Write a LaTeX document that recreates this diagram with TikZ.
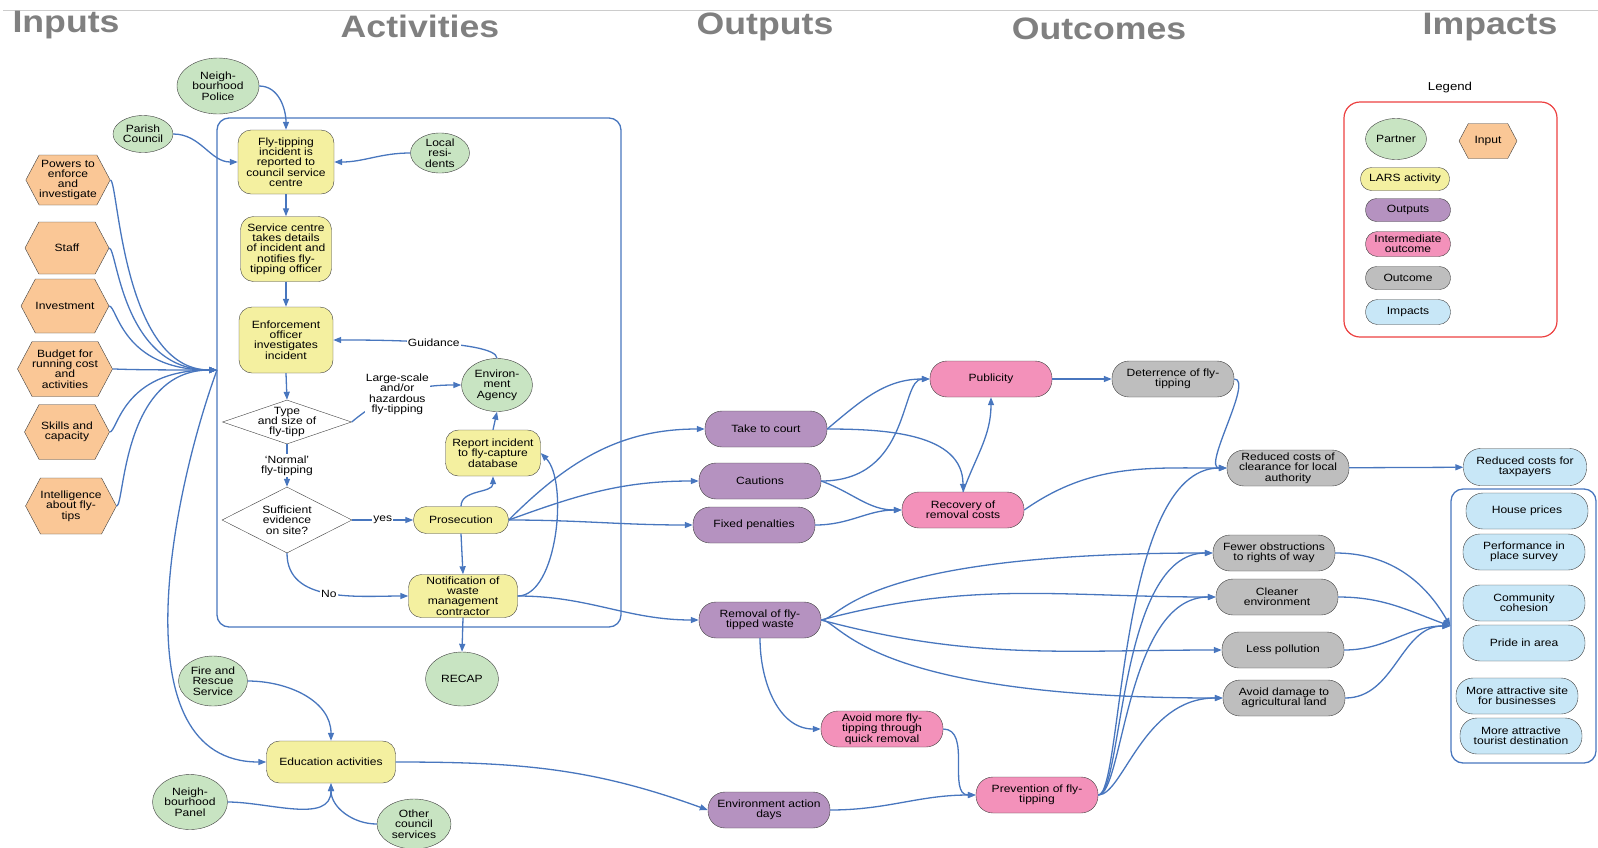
\documentclass[tikz,border=0pt]{standalone}
\usepackage{fontspec}
\setmainfont[FakeStretch=1.15]{Liberation Sans}
\usepackage{xcolor}
\usetikzlibrary{arrows.meta,shapes.geometric,shapes.symbols,positioning}

\definecolor{partnerc}{RGB}{200,228,194}
\definecolor{inputc}{RGB}{250,199,150}
\definecolor{larsc}{RGB}{244,240,160}
\definecolor{outputc}{RGB}{181,146,192}
\definecolor{interc}{RGB}{243,145,186}
\definecolor{outcomec}{RGB}{190,190,190}
\definecolor{impactc}{RGB}{200,231,247}
\definecolor{linkc}{RGB}{72,118,190}
\definecolor{legendc}{RGB}{236,64,64}
\definecolor{headc}{RGB}{128,128,128}

\tikzset{wh/.style n args={2}{minimum width=#1pt,minimum height=#2pt}}

\begin{document}
\begin{tikzpicture}
  [x=1pt,y=-1pt,
   every node/.style={font=\fontsize{10.5}{10.3}\selectfont,align=center,inner sep=1pt},
   partner/.style={draw=black!75,fill=partnerc,ellipse,inner sep=0pt},
   input/.style={draw=black!75,fill=inputc,signal,signal to=east and west,signal pointer angle=124,inner sep=0pt},
   lars/.style={draw=black!75,fill=larsc,rounded corners=13pt},
   output/.style={draw=black!75,fill=outputc,rounded corners=17pt,wh={122}{36}},
   inter/.style={draw=black!75,fill=interc,rounded corners=17pt,wh={122}{36}},
   outcome/.style={draw=black!75,fill=outcomec,rounded corners=17pt,wh={122}{36}},
   impact/.style={draw=black!75,fill=impactc,rounded corners=17pt,wh={122}{36}},
   decision/.style={draw=black!75,fill=white,diamond,aspect=2,inner sep=0pt},
   group/.style={draw=linkc,line width=1.3pt,rounded corners=12pt},
   head/.style={font=\fontsize{31}{31}\selectfont\bfseries,text=headc},
   link/.style={draw=linkc,line width=1.3pt,-{Triangle[length=8pt,width=6pt]}},
   elabel/.style={fill=white,inner sep=1pt}]
  \useasboundingbox (0,0) rectangle (1598,847);
  \draw[headc!40,line width=1.2pt] (3,10.5) -- (1598,10.5);
  \node[head] (hdin) at (66,25) {Inputs};
  \node[head] (hdact) at (420,26) {Activities};
  \node[head] (hdout) at (765,27) {Outputs};
  \node[head] (hdoutc) at (1099,29) {Outcomes};
  \node[head] (hdimp) at (1490,27) {Impacts};

  \node[group,wh={404}{509}] (actbox) at (419,372.5) {};
  \node[group,wh={145}{274}] (impbox) at (1523.5,626) {};
  \coordinate (hub) at (217,370);

  % partners
  \node[partner,wh={82}{56}] (police) at (218,86) {Neigh-\\bourhood\\Police};
  \node[partner,wh={60}{37}] (parish) at (143,134) {Parish\\Council};
  \node[partner,wh={59}{40}] (locals) at (440,153) {Local\\resi-\\dents};
  \node[partner,wh={71}{53}] (envag) at (497,385) {Environ-\\ment\\Agency};
  \node[partner,wh={73}{54}] (recap) at (462,679) {RECAP};
  \node[partner,wh={69}{50}] (fire) at (213,681) {Fire and\\Rescue\\Service};
  \node[partner,wh={75}{55}] (panel) at (190,802) {Neigh-\\bourhood\\Panel};
  \node[partner,wh={74}{50}] (othercs) at (414,824) {Other\\council\\services};

  % inputs
  \node[input,wh={82}{50}] (powers) at (68,180) {Powers to\\enforce\\and\\investigate};
  \node[input,wh={84}{52}] (staff) at (67,248) {Staff};
  \node[input,wh={88}{54}] (invest) at (65,306) {Investment};
  \node[input,wh={88}{55}] (budget) at (65,369) {Budget for\\running cost\\and\\activities};
  \node[input,wh={85}{55}] (skills) at (67,432) {Skills and\\capacity};
  \node[input,wh={87}{56}] (intel) at (71,506) {Intelligence\\about fly-\\tips};

  % activities
  \node[lars,wh={96}{64}] (reported) at (286,162) {Fly-tipping\\incident is\\reported to\\council service\\centre};
  \node[lars,wh={91}{65}] (details) at (286,249) {Service centre\\takes details\\of incident and\\notifies fly-\\tipping officer};
  \node[lars,wh={94}{66}] (enforce) at (286,340) {Enforcement\\officer\\investigates\\incident};
  \node[decision,wh={129}{44},label={[align=center]center:Type\\and size of\\fly-tipp}] (typesize) at (287,422) {};
  \node[decision,wh={130}{66}] (evidence) at (287,520) {Sufficient\\evidence\\on site?};
  \node[lars,wh={95}{46}] (flycap) at (493,453) {Report incident\\to fly-capture\\database};
  \node[lars,wh={95}{27}] (prosec) at (461,520) {Prosecution};
  \node[lars,wh={109}{43}] (notify) at (463,596) {Notification of\\waste\\management\\contractor};
  \node[lars,wh={129}{42}] (educ) at (331,762) {Education activities};

  % outputs
  \node[output] (court) at (766,429) {Take to court};
  \node[output] (caution) at (760,481) {Cautions};
  \node[output] (fixed) at (754,525) {Fixed penalties};
  \node[output] (removal) at (760,620) {Removal of fly-\\tipped waste};
  \node[output] (actdays) at (769,810) {Environment action\\days};

  % intermediate outcomes
  \node[inter] (public) at (991,379) {Publicity};
  \node[inter] (recovery) at (963,510) {Recovery of\\removal costs};
  \node[inter] (quick) at (882,729) {Avoid more fly-\\tipping through\\quick removal};
  \node[inter] (prevent) at (1037,795) {Prevention of fly-\\tipping};

  % outcomes
  \node[outcome] (deter) at (1173,379) {Deterrence of fly-\\tipping};
  \node[outcome] (redla) at (1288,468) {Reduced costs of\\clearance for local\\authority};
  \node[outcome] (fewer) at (1274,553) {Fewer obstructions\\to rights of way};
  \node[outcome] (cleaner) at (1277,597) {Cleaner\\environment};
  \node[outcome] (lesspol) at (1283,650) {Less pollution};
  \node[outcome] (agri) at (1284,698) {Avoid damage to\\agricultural land};

  % impacts
  \node[impact,wh={123}{37}] (taxp) at (1525,467) {Reduced costs for\\taxpayers};
  \node[impact] (house) at (1527,511) {House prices};
  \node[impact] (survey) at (1524,552) {Performance in\\place survey};
  \node[impact] (cohesion) at (1524,603) {Community\\cohesion};
  \node[impact] (pride) at (1524,643) {Pride in area};
  \node[impact] (business) at (1517,696) {More attractive site\\for businesses};
  \node[impact] (tourist) at (1521,736) {More attractive\\tourist destination};

  % legend
  \node[font=\fontsize{11.5}{12}\selectfont] (lgtitle) at (1450,88) {Legend};
  \node[draw=legendc,line width=1.2pt,rounded corners=16pt,wh={213}{235}] (lgbox) at (1450.5,219.5) {};
  \node[partner,wh={61}{41}] (lgpartner) at (1396,139) {Partner};
  \node[input,wh={58}{35}] (lginput) at (1488,141) {Input};
  \node[lars,rounded corners=11pt,wh={89}{23}] (lglars) at (1405,179) {LARS activity};
  \node[output,rounded corners=11pt,wh={85}{23}] (lgout) at (1408,210) {Outputs};
  \node[inter,rounded corners=12pt,wh={85}{25}] (lginter) at (1408,244) {Intermediate\\outcome};
  \node[outcome,rounded corners=11pt,wh={85}{23}] (lgoutc) at (1408,278) {Outcome};
  \node[impact,rounded corners=12pt,wh={85}{25}] (lgimp) at (1408,312) {Impacts};

  % inputs and partners into activities
  \foreach \src in {powers,staff,invest,budget,skills,intel}
    \draw[link] (\src.east) to[out=0,in=180,out distance=8pt,in distance=95pt] (hub);
  \draw[link] (hub) to[out=250,in=180,out distance=138pt,in distance=147pt] (educ.west);
  \draw[link] (police.east) to[out=0,in=90] (reported.north);
  \draw[link] (parish.east) to[out=0,in=180] (reported.west);
  \draw[link] (locals.west) to[out=180,in=0] (reported.east);
  \draw[link] (reported) -- (details);
  \draw[link] (details) -- (enforce);
  \draw[link] (enforce.south) -- (typesize.north);
  \draw[link] (typesize.south) -- node[elabel]{`Normal'\\fly-tipping} (evidence.north);
  \draw[link] (typesize.east) to[out=40,in=180] node[elabel,pos=0.45]{Large-scale\\and/or\\hazardous\\fly-tipping} (envag.west);
  \draw[link] (envag.north) to[out=90,in=0,looseness=0.3] node[elabel,pos=0.45]{Guidance} (enforce.east);
  \draw[link] (evidence.east) -- node[elabel]{yes} (prosec.west);
  \draw[link] (evidence.south) to[out=-90,in=180] node[elabel,pos=0.5]{No} (notify.west);
  \draw[link] (prosec.north) to[out=90,in=-90] (flycap.south);
  \draw[link] (flycap.north) -- (envag.south);
  \draw[link] (prosec.south) -- (notify.north);
  \draw[link] (notify.east) to[out=0,in=-45,looseness=0.7] (flycap.east);
  \draw[link] (notify.south) -- (recap.north);
  \draw[link] (fire.east) to[out=0,in=90] (educ.north);
  \draw[link] (panel.east) to[out=0,in=-90] (educ.south);
  \draw[link] (othercs.west) to[out=180,in=-90] (educ.south);

  % activities to outputs
  \draw[link] (prosec.east) to[out=45,in=180] (court.west);
  \draw[link] (prosec.east) to[out=20,in=180] (caution.west);
  \draw[link] (prosec.east) to[out=0,in=180] (fixed.west);
  \draw[link] (notify.east) to[out=0,in=180] (removal.west);
  \draw[link] (educ.east) to[out=0,in=160] (actdays.west);

  % outputs to outcomes
  \draw[link] (court.east) to[out=40,in=180] (public.west);
  \draw[link] (court.east) to[out=0,in=90] (recovery.north);
  \draw[link] (caution.east) to[out=0,in=180,out distance=90pt,in distance=30pt] (public.west);
  \draw[link] (caution.east) to[out=-20,in=180] (recovery.west);
  \draw[link] (fixed.east) to[out=0,in=180] (recovery.west);
  \draw[link] (recovery.north) to[out=70,in=-90] (public.south);
  \draw[link] (public) -- (deter);
  \draw[link] (deter.east) to[out=0,in=180,out distance=20pt,in distance=25pt] (redla.west);
  \draw[link] (recovery.east) to[out=35,in=180] (redla.west);
  \draw[link] (removal.east) to[out=0,in=180,out distance=20pt,in distance=360pt] (fewer.west);
  \draw[link] (removal.east) to[out=15,in=180] (cleaner.west);
  \draw[link] (removal.east) to[out=-15,in=180] (lesspol.west);
  \draw[link] (removal.east) to[out=0,in=180,out distance=20pt,in distance=360pt] (agri.west);
  \draw[link] (removal.south) to[out=-90,in=180] (quick.west);
  \draw[link] (quick.east) to[out=0,in=180] (prevent.west);
  \draw[link] (actdays.east) to[out=0,in=180] (prevent.west);
  \draw[link] (prevent.east) to[out=0,in=180,out distance=25pt,in distance=110pt] (redla.west);
  \draw[link] (prevent.east) to[out=0,in=180,out distance=25pt,in distance=95pt] (fewer.west);
  \draw[link] (prevent.east) to[out=0,in=180,out distance=25pt,in distance=90pt] (cleaner.west);
  \draw[link] (prevent.east) to[out=0,in=180,out distance=25pt,in distance=80pt] (agri.west);

  % outcomes to impacts
  \draw[link] (redla) -- (taxp);
  \draw[link] (fewer.east) to[out=0,in=120] (impbox.west);
  \draw[link] (cleaner.east) to[out=0,in=160] (impbox.west);
  \draw[link] (lesspol.east) to[out=0,in=180] (impbox.west);
  \draw[link] (agri.east) to[out=0,in=180] (impbox.west);
\end{tikzpicture}
\end{document}
